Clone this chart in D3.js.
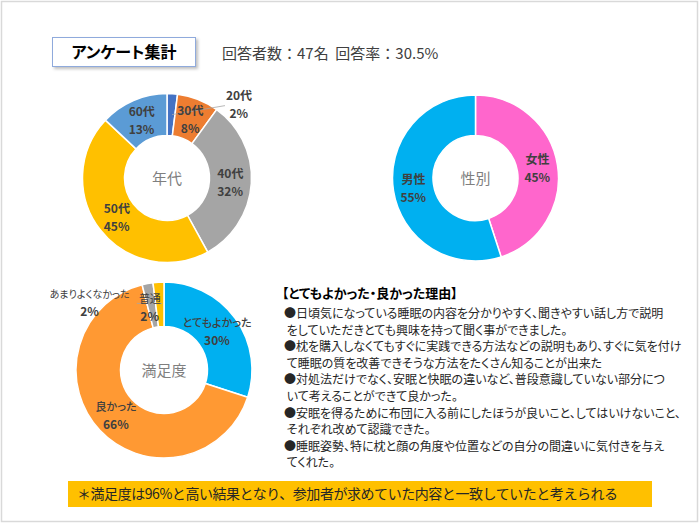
<!DOCTYPE html>
<html><head><meta charset="utf-8">
<script src="https://cdn.jsdelivr.net/npm/d3@7"></script>
<style>
html,body{margin:0;padding:0;background:#fff;}
svg text{font-family:"Noto Sans CJK JP","Noto Sans",sans-serif;}
svg text.p{font-feature-settings:"palt";}
</style></head>
<body>
<svg id="c" width="700" height="525"></svg>
<script>
// ---- data ----
const ageCats = ["20代","30代","40代","50代","60代"];
const agePct = [2, 8, 32, 45, 13];
const ageColors = ["#4472C4","#ED7D31","#A5A5A5","#FFC000","#5B9BD5"];

const genderCats = ["女性","男性"];
const genderPct = [45, 55];
const genderColors = ["#FF66CC","#00B0F0"];

const satCats = ["とてもよかった","良かった","あまりよくなかった","普通"];
const satPct = [30, 66, 2, 2];
const satColors = ["#00B0F0","#FF9933","#A5A5A5","#FFC000"];

const title = "アンケート集計";
const stats = "回答者数：47名  回答率：30.5%";
const reasonTitle = "【とてもよかった・良かった理由】";
const reasonLines = [
 "●日頃気になっている睡眠の内容を分かりやすく、聞きやすい話し方で説明",
 " をしていただきとても興味を持って聞く事ができました。",
 "●枕を購入しなくてもすぐに実践できる方法などの説明もあり、すぐに気を付け",
 " て睡眠の質を改善できそうな方法をたくさん知ることが出来た",
 "●対処法だけでなく、安眠と快眠の違いなど、普段意識していない部分につ",
 " いて考えることができて良かった。",
 "●安眠を得るために布団に入る前にしたほうが良いこと、してはいけないこと、",
 " それぞれ改めて認識できた。",
 "●睡眠姿勢、特に枕と顔の角度や位置などの自分の間違いに気付きを与え",
 " てくれた。"
];
const conclusion = "＊満足度は96%と高い結果となり、参加者が求めていた内容と一致していたと考えられる";

// ---- drawing ----
const svg = d3.select("#c");
const defs = svg.append("defs");
const f = defs.append("filter").attr("id","sh").attr("x","-10%").attr("y","-20%").attr("width","130%").attr("height","160%");
f.append("feDropShadow").attr("dx",2).attr("dy",2).attr("stdDeviation",1.5).attr("flood-color","#000").attr("flood-opacity",0.25);

svg.append("rect").attr("x",1.5).attr("y",1.5).attr("width",696).attr("height",520)
  .attr("fill","#fff").attr("stroke","#d9d9d9").attr("stroke-width",1.5);

svg.append("rect").attr("x",52.5).attr("y",37.5).attr("width",143).attr("height",29)
  .attr("fill","#fff").attr("stroke","#8FAADC").attr("stroke-width",1).attr("filter","url(#sh)");
svg.append("text").attr("class","p").attr("x",124).attr("y",58).attr("text-anchor","middle")
  .attr("font-size",16).attr("font-weight","bold").attr("fill","#000").text(title);
svg.append("text").attr("x",222).attr("y",59).attr("font-size",15).attr("fill","#404040")
  .attr("xml:space","preserve").style("white-space","pre").text(stats);

const labelColor = "#404040";

// center a text line manually (works with proportional glyphs)
function centered(g, x, y, str, size, weight, fill) {
  const t = g.append("text").attr("class","p").attr("x",x).attr("y",y)
    .attr("font-size",size).attr("font-weight",weight).attr("fill",fill).text(str);
  const b = t.node().getBBox();
  t.attr("x", x - (b.x - x) - b.width/2);
  return t;
}

function donut(cx, cy, rOuter, rInner, cats, vals, colors, center, opts, jpSize) {
  const g = svg.append("g").attr("transform", `translate(${cx},${cy})`);
  const pie = d3.pie().sort(null).value(d => d)(vals);
  const arc = d3.arc().innerRadius(rInner).outerRadius(rOuter);
  const midArc = d3.arc().innerRadius((rInner+rOuter)/2).outerRadius((rInner+rOuter)/2);
  g.selectAll("path").data(pie).join("path")
    .attr("d", arc).attr("fill", (d,i) => colors[i])
    .attr("stroke","#fff").attr("stroke-width",1.5);
  centered(g, 0, 6, center, 15, "normal", "#7f7f7f");
  pie.forEach((d,i) => {
    const c = midArc.centroid(d);
    const o = (opts && opts[i]) || null;
    let lx = c[0], ly = c[1];
    if (o) {
      lx = c[0] + o.dx; ly = c[1] + o.dy;
      if (o.line) {
        g.append("line").attr("x1", c[0] + o.line[0]).attr("y1", c[1] + o.line[1])
          .attr("x2", c[0] + o.line[2]).attr("y2", c[1] + o.line[3])
          .attr("stroke","#a6a6a6").attr("stroke-width",0.8);
      }
    }
    const w = (o && o.w) || "bold";
    centered(g, lx, ly - 4, cats[i], (o && o.size) || jpSize || 12, w, labelColor);
    centered(g, lx, ly + 14, vals[i] + "%", 12, "bold", labelColor);
  });
}

donut(167, 178, 84.5, 42.5, ageCats, agePct, ageColors, "年代",
  {0: {dx: 68, dy: -11, line: [1, 0, 54, -9]}});
donut(475.5, 178, 83, 42.5, genderCats, genderPct, genderColors, "性別");
donut(164, 370, 88, 43.5, satCats, satPct, satColors, "満足度",
  {0: {dx: 0, dy: 0, w: "500"}, 1: {dx: 0, dy: 0, w: "500"},
   2: {dx: -62, dy: -3, w: "normal", size: 10}, 3: {dx: -10, dy: 3, w: "normal", line: [2, -1, -23, -1]}}, 11);

svg.append("text").attr("class","p").attr("x",282).attr("y",298).attr("font-size",13).attr("font-weight","bold")
  .attr("fill","#000").text(reasonTitle);
svg.append("g").selectAll("text").data(reasonLines).join("text").attr("class","p")
  .attr("x",284).attr("y",(d,i) => 318 + i*16.6)
  .attr("font-size",12).attr("fill","#262626")
  .attr("xml:space","preserve").style("white-space","pre").text(d => d);

svg.append("rect").attr("x",68).attr("y",481).attr("width",584).attr("height",26).attr("fill","#FFC000");
svg.append("text").attr("x",77).attr("y",499).attr("font-size",14).attr("letter-spacing",-0.45)
  .attr("fill","#262626").text(conclusion);
</script>
</body></html>
